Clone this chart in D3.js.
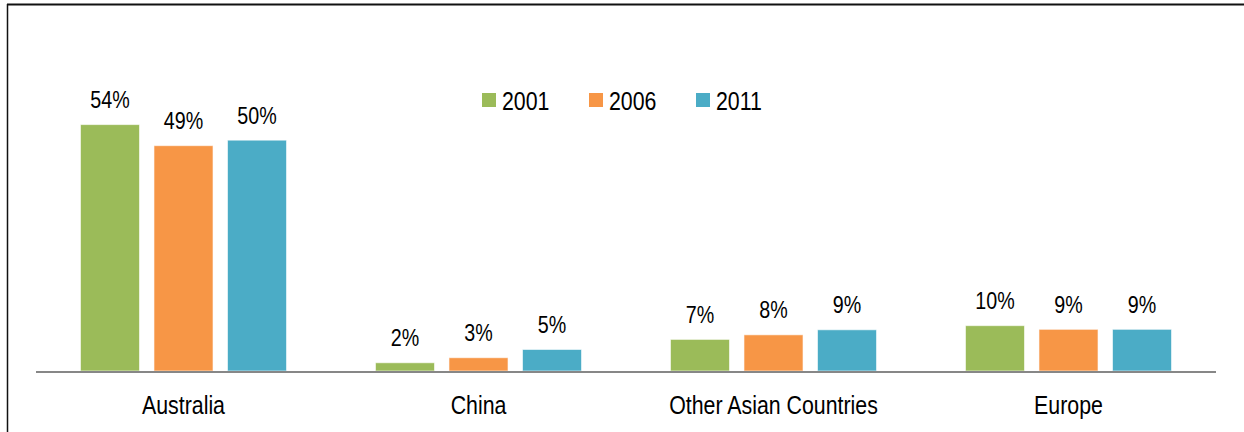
<!DOCTYPE html>
<html>
<head>
<meta charset="utf-8">
<script src="https://cdn.jsdelivr.net/npm/d3@7"></script>
<style>
  body { margin: 0; background: #fff; }
  svg { display: block; }
  text { font-family: "Liberation Sans", Arial, sans-serif; fill: #000; }
</style>
</head>
<body>
<div id="chart"></div>
<script>
// chart data
var categories = ["Australia", "China", "Other Asian Countries", "Europe"];
var years = ["2001", "2006", "2011"];
var values_2001 = [53.8, 1.8, 6.9, 9.9];
var values_2006 = [49.2, 2.9, 7.9, 9.1];
var values_2011 = [50.4, 4.7, 9.0, 9.1];
var year_colors = ["#9BBB59", "#F79646", "#4BACC6"];

var width = 1244, height = 432;
var series = [values_2001, values_2006, values_2011];
var narrow = 0.82; // no Arial Narrow installed, so squeeze Liberation Sans

var svg = d3.select("#chart").append("svg")
  .attr("width", width)
  .attr("height", height);

// squeeze text horizontally to look like a narrow face
function condense(sel) {
  sel.each(function() {
    var w = this.getComputedTextLength();
    d3.select(this)
      .attr("textLength", w * narrow)
      .attr("lengthAdjust", "spacingAndGlyphs");
  });
}

// frame around the figure (top and left edges visible)
svg.append("line")
  .attr("x1", 7).attr("x2", width)
  .attr("y1", 4.5).attr("y2", 4.5)
  .style("stroke", "#111").style("stroke-width", 2);
svg.append("line")
  .attr("x1", 7.5).attr("x2", 7.5)
  .attr("y1", 4).attr("y2", height)
  .style("stroke", "#111").style("stroke-width", 1.5);

// scales
var x0 = d3.scaleBand()
  .domain(categories)
  .range([36, 1216]);

var x1 = d3.scaleBand()
  .domain(years)
  .range([0, x0.bandwidth()])
  .paddingInner(0.197)
  .paddingOuter(0.605);

var y = d3.scaleLinear()
  .domain([0, 60])
  .range([371, 371 - 60 * 4.58]);

var pct = d3.format(".0f");

// bars, one group per category
var groups = svg.selectAll(".cat-group")
  .data(categories)
  .enter().append("g")
  .attr("class", "cat-group")
  .attr("transform", function(d) { return "translate(" + x0(d) + ",0)"; });

var bar_data = function(cat, ci) {
  return years.map(function(yr, si) {
    return { year: yr, value: series[si][ci], color: year_colors[si] };
  });
};

groups.each(function(cat, ci) {
  var g = d3.select(this);
  var items = bar_data(cat, ci);

  g.selectAll("rect")
    .data(items)
    .enter().append("rect")
    .attr("x", function(d) { return x1(d.year); })
    .attr("y", function(d) { return y(d.value); })
    .attr("width", x1.bandwidth())
    .attr("height", function(d) { return y(0) - y(d.value); })
    .style("fill", function(d) { return d.color; })
    .style("stroke", "#fff")
    .style("stroke-opacity", 0.6)
    .style("stroke-width", 1);

  // value labels above bars
  g.selectAll(".val")
    .data(items)
    .enter().append("text")
    .attr("class", "val")
    .attr("x", function(d) { return x1(d.year) + x1.bandwidth() / 2; })
    .attr("y", function(d) { return y(d.value) - 16.5; })
    .attr("text-anchor", "middle")
    .style("font-size", "24px")
    .text(function(d) { return pct(d.value) + "%"; })
    .call(condense);
});

// category axis (line only, no ticks)
var x_axis = d3.axisBottom(x0).tickSize(0).tickPadding(0);
var axis_g = svg.append("g")
  .attr("transform", "translate(0,372)")
  .call(x_axis);
axis_g.attr("font-family", null).attr("font-size", null);
axis_g.select(".domain")
  .attr("d", "M36,0H1216")
  .style("stroke", "#878787")
  .style("stroke-width", 2);
axis_g.selectAll(".tick text")
  .attr("y", 42)
  .attr("dy", 0)
  .style("font-size", "26px")
  .call(condense);

// legend
var legend_x = 482, legend_y = 93, legend_step = 107;
var legend = svg.selectAll(".legend-item")
  .data(years)
  .enter().append("g")
  .attr("class", "legend-item")
  .attr("transform", function(d, i) { return "translate(" + (legend_x + i * legend_step) + "," + legend_y + ")"; });

legend.append("rect")
  .attr("width", 14)
  .attr("height", 14)
  .style("fill", function(d, i) { return year_colors[i]; });

legend.append("text")
  .attr("x", 20)
  .attr("y", 16.5)
  .style("font-size", "26px")
  .text(function(d) { return d; })
  .call(condense);
</script>
</body>
</html>
